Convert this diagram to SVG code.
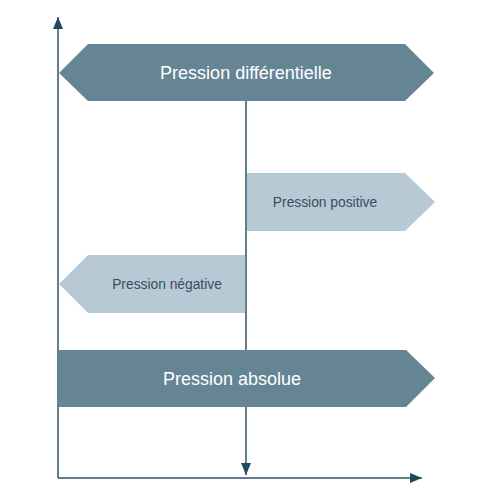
<svg xmlns="http://www.w3.org/2000/svg" width="490" height="490" viewBox="0 0 490 490">
<style>
.axis{stroke:#2f5566;stroke-width:1.5;fill:none}
.dark{fill:#658594}
.light{fill:#b7c9d5}
.tw{font-family:"Liberation Sans",Arial,sans-serif;font-size:18px;fill:#ffffff;text-anchor:middle}
.td{font-family:"Liberation Sans",Arial,sans-serif;font-size:13.8px;fill:#34505f;text-anchor:middle}
</style>
<defs>
<marker id="ah" viewBox="0 0 12 10" refX="12" refY="5" markerWidth="12" markerHeight="10" markerUnits="userSpaceOnUse" orient="auto">
<path d="M0,0 L12,5 L0,10 Z" fill="#1f4a5c"/>
</marker>
</defs>
<g id="connectors">
<line class="axis" x1="58" y1="478" x2="58" y2="17" marker-end="url(#ah)"/>
<line class="axis" x1="58" y1="478" x2="422" y2="478" marker-end="url(#ah)"/>
<line class="axis" x1="246" y1="100" x2="246" y2="475" marker-end="url(#ah)"/>
</g>
<g id="differentielle">
<polygon class="dark" points="59,73 88,44 405,44 434,73 405,101 88,101"/>
<text class="tw" x="246" y="79">Pression différentielle</text>
</g>
<g id="positive">
<polygon class="light" points="247,173 405,173 435,202 405,231 247,231"/>
<text class="td" x="325" y="207">Pression positive</text>
</g>
<g id="negative">
<polygon class="light" points="59,284 88,255 245,255 245,313 88,313"/>
<text class="td" x="167" y="289">Pression négative</text>
</g>
<g id="absolue">
<polygon class="dark" points="58,350 406,350 435,378 406,407 58,407"/>
<text class="tw" x="232" y="385">Pression absolue</text>
</g>
</svg>
